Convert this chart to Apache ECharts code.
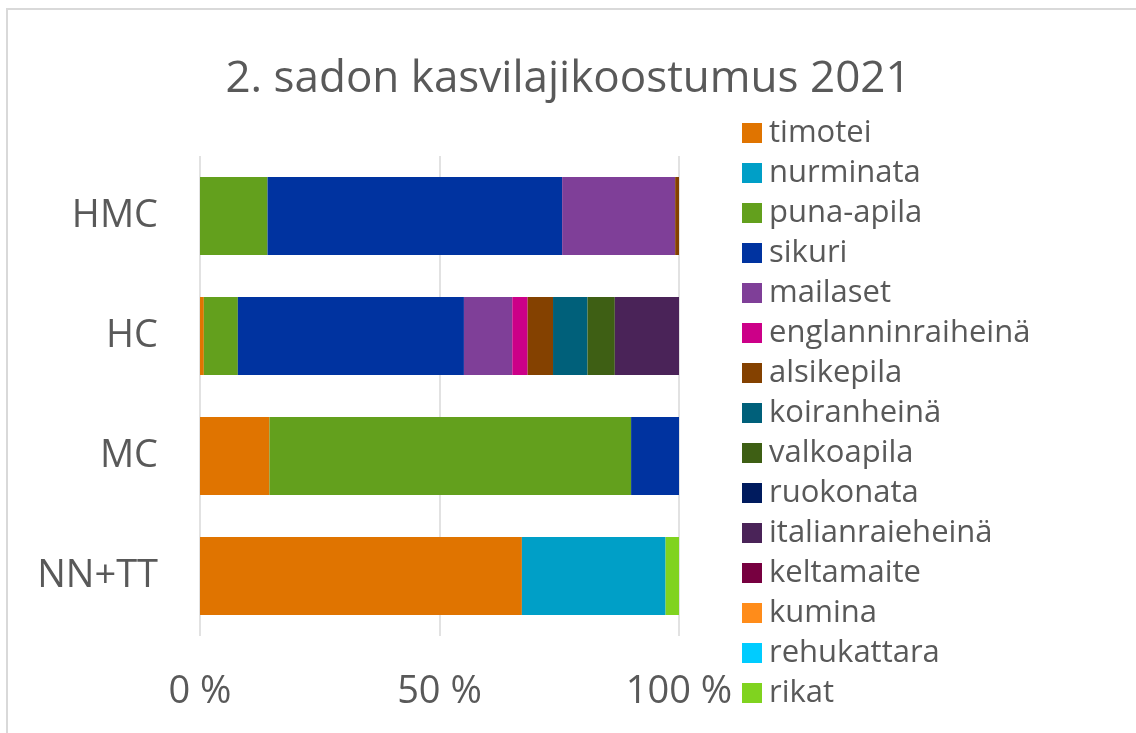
<!DOCTYPE html>
<html>
<head>
<meta charset="utf-8">
<script src="https://cdn.jsdelivr.net/npm/echarts@6/dist/echarts.min.js"></script>
<style>
  html, body { margin: 0; padding: 0; background: #fff; }
  #frame { position: absolute; left: 6px; top: 8px; width: 1200px; height: 800px;
           border-left: 2px solid #d9d9d9; border-top: 2px solid #d9d9d9; }
  #chartBox { position: absolute; left: 0; top: 0; width: 1136px; height: 733px; }
</style>
</head>
<body>
<div id="frame"></div>
<div id="chartBox"></div>
<script>
// kategoriat (ylhäältä alas)
const categories = ['HMC', 'HC', 'MC', 'NN+TT'];
const xTicks = [0, 50, 100];

// osuudet % (HMC, HC, MC, NN+TT)
const timotei           = [0,    0.8, 14.5, 67.2];
const nurminata         = [0,    0,    0,   30.0];
const punaApila         = [14.1, 7.1, 75.5,  0];
const sikuri            = [61.5, 47.2, 10.0, 0];
const mailaset          = [23.6, 10.1, 0,    0];
const englanninraiheina = [0,    3.2,  0,    0];
const alsikepila        = [0.8,  5.3,  0,    0];
const koiranheina       = [0,    7.2,  0,    0];
const valkoapila        = [0,    5.7,  0,    0];
const ruokonata         = [0,    0,    0,    0];
const italianraieheina  = [0,    13.4, 0,    0];
const keltamaite        = [0,    0,    0,    0];
const kumina            = [0,    0,    0,    0];
const rehukattara       = [0,    0,    0,    0];
const rikat             = [0,    0,    0,    2.8];

const seriesDefs = [
  ['timotei', timotei, '#E07400'],
  ['nurminata', nurminata, '#009FC7'],
  ['puna-apila', punaApila, '#63A01D'],
  ['sikuri', sikuri, '#0033A0'],
  ['mailaset', mailaset, '#7F3F98'],
  ['englanninraiheinä', englanninraiheina, '#CC0088'],
  ['alsikepila', alsikepila, '#844100'],
  ['koiranheinä', koiranheina, '#00607A'],
  ['valkoapila', valkoapila, '#3E5F14'],
  ['ruokonata', ruokonata, '#001B5E'],
  ['italianraieheinä', italianraieheina, '#4A2358'],
  ['keltamaite', keltamaite, '#770040'],
  ['kumina', kumina, '#FF8C1A'],
  ['rehukattara', rehukattara, '#00CCFF'],
  ['rikat', rikat, '#80D31F']
];

const chart = echarts.init(document.getElementById('chartBox'));
const textColor = '#595959';
const font = '"Open Sans", "Noto Sans", sans-serif';

const option = {
  animation: false,
  textStyle: { fontFamily: font },
  title: {
    text: '2. sadon kasvilajikoostumus 2021',
    left: 'center',
    top: 52,
    textStyle: { color: textColor, fontSize: 44, fontWeight: 'normal', fontFamily: font }
  },
  legend: {
    orient: 'vertical',
    left: 737,
    top: 111,
    itemWidth: 20,
    itemHeight: 20,
    itemGap: 6,
    icon: 'rect',
    textStyle: { color: textColor, fontSize: 31, lineHeight: 34, fontFamily: font, padding: [0, 0, 0, 2] },
    data: seriesDefs.map(s => s[0])
  },
  grid: { left: 200, right: 457, top: 156, bottom: 97, containLabel: false },
  xAxis: {
    type: 'value',
    min: 0,
    max: 100,
    interval: 50,
    axisLine: { show: false },
    axisTick: { show: false },
    splitLine: { lineStyle: { color: '#d9d9d9', width: 1.5 } },
    axisLabel: {
      color: textColor, fontSize: 38, margin: 37, fontFamily: font,
      formatter: v => xTicks.includes(v) ? v + ' %' : ''
    }
  },
  yAxis: {
    type: 'category',
    inverse: true,
    data: categories,
    axisLine: { show: false },
    axisTick: { show: false },
    axisLabel: { color: textColor, fontSize: 38, margin: 42, fontFamily: font }
  },
  series: seriesDefs.map(([name, data, color]) => ({
    name: name,
    type: 'bar',
    stack: 'total',
    barWidth: '65%',
    data: data,
    itemStyle: { color: color }
  }))
};

chart.setOption(option);
</script>
</body>
</html>
